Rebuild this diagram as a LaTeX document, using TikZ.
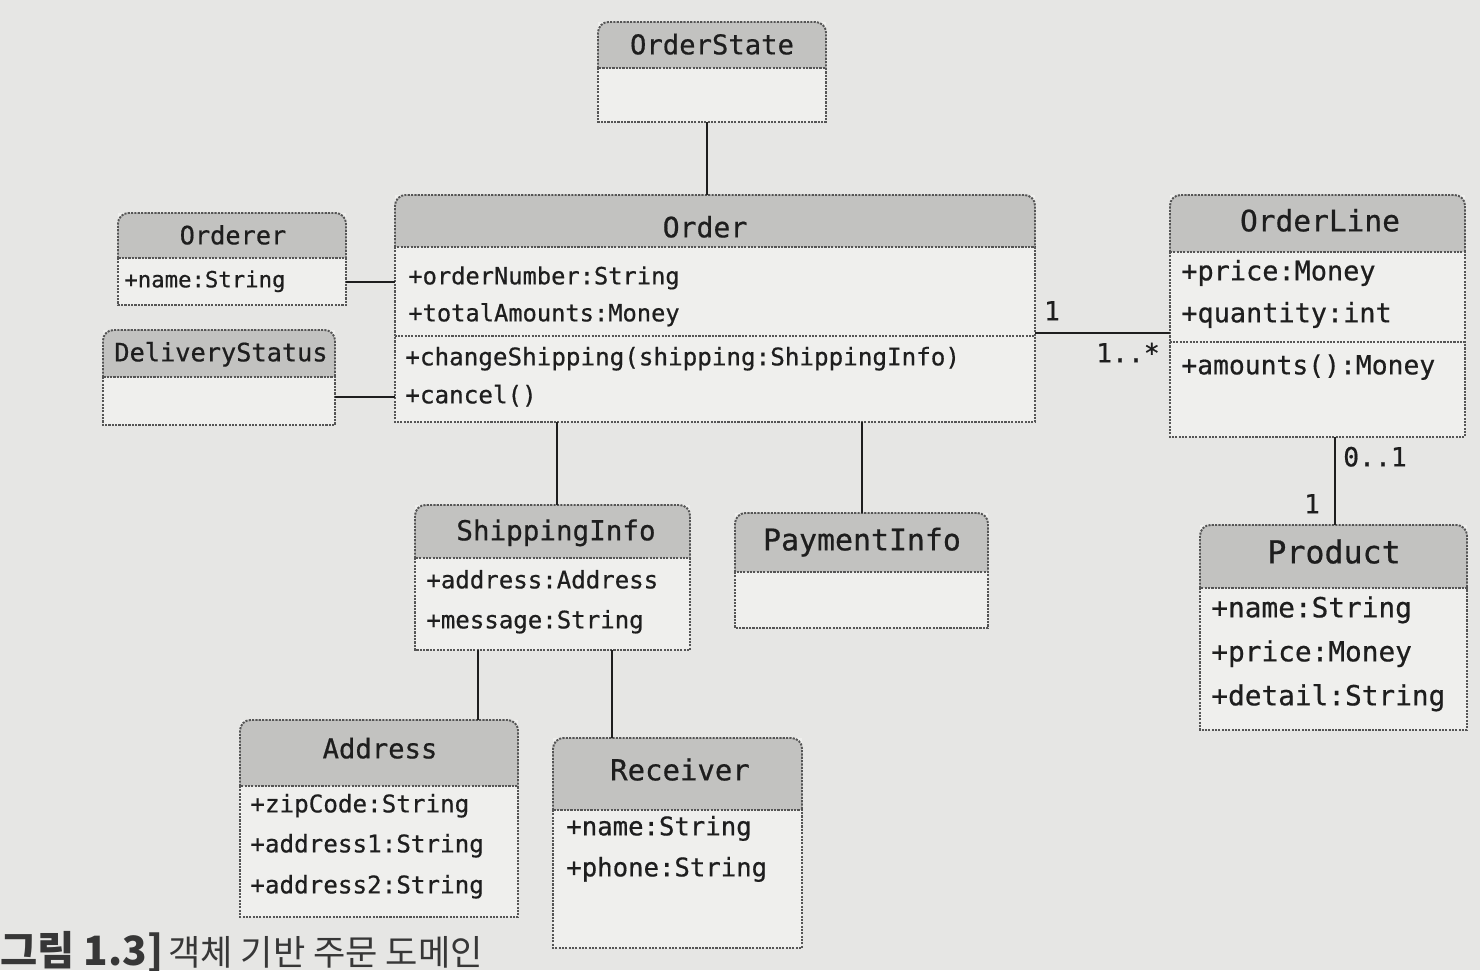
\documentclass[tikz,border=0pt]{standalone}
\usepackage{fontspec}
\newfontfamily\umlfont{DejaVu Sans Mono}[FakeBold=0.6]
\newfontfamily\cjkfont{Noto Sans CJK KR}
\usetikzlibrary{fit}
\definecolor{paper}{RGB}{230,230,228}
\definecolor{bodyc}{RGB}{239,239,237}
\definecolor{hdrc}{RGB}{194,194,192}
\definecolor{edgec}{RGB}{85,85,85}
\definecolor{inkc}{RGB}{30,30,30}
\definecolor{capc}{RGB}{55,55,55}
\tikzset{
  border/.style={draw=edgec, line width=1.1pt, dash pattern=on 1.2pt off 0.7pt},
  title/.style={font=\umlfont\fontsize{#1}{#1}\selectfont, text=inkc, inner sep=0pt,
    text height=0.95em, text depth=0em, anchor=center},
  attr/.style={font=\umlfont\fontsize{#1}{#1}\selectfont, text=inkc, inner sep=0pt,
    text height=0.95em, text depth=0em, anchor=west},
  link/.style={draw=inkc, line width=1.2pt},
  mult/.style={font=\umlfont\fontsize{15}{15}\selectfont, text=inkc, inner sep=0pt,
    text height=0.95em, text depth=0em, anchor=center},
}
\newcommand\umlbox[6]{%
  \fill[bodyc] (#2,#3) rectangle (#4,#5);
  \fill[hdrc, rounded corners=6pt] (#2,#3) rectangle (#4,#6);
  \fill[hdrc] (#2,#6-12) rectangle (#4,#6);
  \draw[border] (#2,#6) [rounded corners=6pt] -- (#2,#3) -- (#4,#3) -- (#4,#6);
  \draw[border] (#2,#6) -- (#2,#5) -- (#4,#5) -- (#4,#6) -- cycle;
  \node[fit={(#2,#3)(#4,#5)}, inner sep=0pt] (#1) {};
}
\begin{document}
\begin{tikzpicture}[x=0.02cm, y=-0.02cm]
\useasboundingbox (0,0) rectangle (1480,970);
\fill[paper] (0,0) rectangle (1480,970);

% OrderState
\umlbox{OrderState}{598}{22}{826}{122}{68}
\node[title=15.5] (os-t) at (712,46) {OrderState};

% Order
\umlbox{Order}{395}{195}{1035}{422}{247}
\draw[border] (Order.west |- 0,336) -- (Order.east |- 0,336);
\node[title=16] (or-t) at (705,229) {Order};
\node[attr=13.5] (or-a1) at (408,276) {+orderNumber:String};
\node[attr=13.5] (or-a2) at (408,313) {+totalAmounts:Money};
\node[attr=13.8] (or-m1) at (405,357) {+changeShipping(shipping:ShippingInfo)};
\node[attr=13.8] (or-m2) at (405,395) {+cancel()};

% Orderer
\umlbox{Orderer}{118}{213}{346}{305}{258}
\node[title=14.4] (oe-t) at (233,236) {Orderer};
\node[attr=12.7] (oe-a1) at (124,279) {+name:String};

% DeliveryStatus
\umlbox{DeliveryStatus}{103}{330}{335}{425}{377}
\node[title=14.4] (ds-t) at (221,353) {DeliveryStatus};

% OrderLine
\umlbox{OrderLine}{1170}{195}{1465}{437}{252}
\draw[border] (OrderLine.west |- 0,342) -- (OrderLine.east |- 0,342);
\node[title=16.8] (ol-t) at (1320,223) {OrderLine};
\node[attr=15.3] (ol-a1) at (1181,272) {+price:Money};
\node[attr=15.3] (ol-a2) at (1181,314) {+quantity:int};
\node[attr=15] (ol-m1) at (1181,366) {+amounts():Money};

% ShippingInfo
\umlbox{ShippingInfo}{415}{505}{690}{650}{558}
\node[title=15.7] (si-t) at (556,532) {ShippingInfo};
\node[attr=13.7] (si-a1) at (426,580) {+address:Address};
\node[attr=13.7] (si-a2) at (426,620) {+message:String};

% PaymentInfo
\umlbox{PaymentInfo}{735}{513}{988}{628}{572}
\node[title=17] (pi-t) at (862,542) {PaymentInfo};

% Product
\umlbox{Product}{1200}{525}{1467}{730}{588}
\node[title=18] (pr-t) at (1334,555) {Product};
\node[attr=15.8] (pr-a1) at (1211,609) {+name:String};
\node[attr=15.8] (pr-a2) at (1211,653) {+price:Money};
\node[attr=15.8] (pr-a3) at (1211,697) {+detail:String};

% Address
\umlbox{Address}{240}{720}{518}{917}{786}
\node[title=15.5] (ad-t) at (380,750) {Address};
\node[attr=13.8] (ad-a1) at (250,804) {+zipCode:String};
\node[attr=13.8] (ad-a2) at (250,844) {+address1:String};
\node[attr=13.8] (ad-a3) at (250,885) {+address2:String};

% Receiver
\umlbox{Receiver}{553}{738}{802}{948}{810}
\node[title=16.5] (rc-t) at (680,772) {Receiver};
\node[attr=14.6] (rc-a1) at (566,827) {+name:String};
\node[attr=14.6] (rc-a2) at (566,868) {+phone:String};

% connectors
\draw[link] (OrderState.south -| 707,0) -- (Order.north -| 707,0);
\draw[link] (Orderer.east |- 0,282) -- (Order.west |- 0,282);
\draw[link] (DeliveryStatus.east |- 0,397) -- (Order.west |- 0,397);
\draw[link] (Order.east |- 0,333) -- (OrderLine.west |- 0,333);
\draw[link] (Order.south -| 557,0) -- (ShippingInfo.north -| 557,0);
\draw[link] (Order.south -| 862,0) -- (PaymentInfo.north -| 862,0);
\draw[link] (OrderLine.south -| 1335,0) -- (Product.north -| 1335,0);
\draw[link] (ShippingInfo.south -| 478,0) -- (Address.north -| 478,0);
\draw[link] (ShippingInfo.south -| 612,0) -- (Receiver.north -| 612,0);

% multiplicities
\node[mult] (m-o1) at (1052,312) {1};
\node[mult] (m-ol) at (1128,354) {1..*};
\node[mult] (m-ol2) at (1375,458) {0..1};
\node[mult] (m-pr) at (1312,505) {1};

% caption
\node[anchor=base west, inner sep=0pt, text=capc, font=\cjkfont\bfseries\fontsize{23}{23}\selectfont]
  (cap1) at (0,965) {그림 1.3]};
\node[anchor=base west, inner sep=0pt, text=capc, font=\cjkfont\fontsize{20}{20}\selectfont]
  (cap2) at (168,965) {객체 기반 주문 도메인};
\end{tikzpicture}
\end{document}
